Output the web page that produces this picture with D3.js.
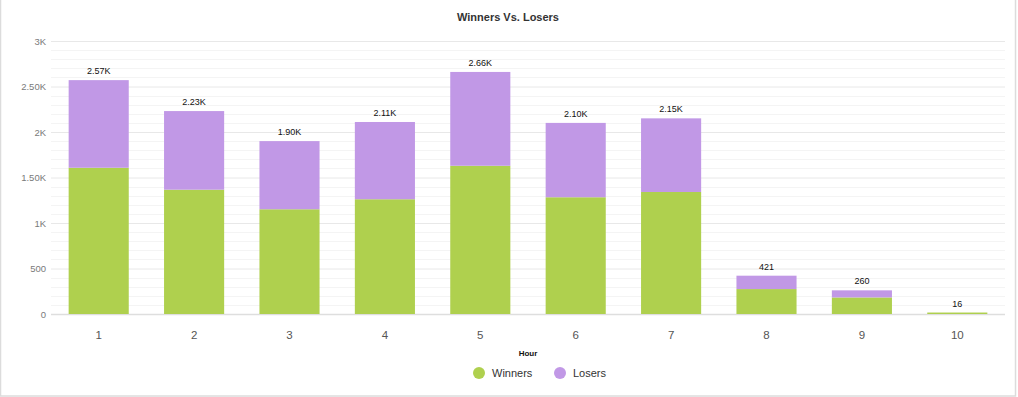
<!DOCTYPE html>
<html><head><meta charset="utf-8">
<script src="https://cdn.jsdelivr.net/npm/d3@7"></script>
<style>body{margin:0;background:#fff;}svg{display:block;font-family:"Liberation Sans",Arial,sans-serif;}</style>
</head><body>
<svg id="c" width="1018" height="397"></svg>
<script>
const hours = ["1","2","3","4","5","6","7","8","9","10"];
const winners = [1607, 1366, 1151, 1261, 1629, 1283, 1341, 274, 182, 16];
const losers  = [963, 864, 749, 849, 1031, 817, 809, 147, 78, 0];
const yTicks = [0, 500, 1000, 1500, 2000, 2500, 3000];
const seriesNames = ["Winners", "Losers"];
const colors = ["#afd04e", "#c198e6"];

const svg = d3.select("#c");
const W = 1018, H = 397;
const m = {left: 51, right: 13, top: 41, bottom: 83};

svg.append("rect").attr("x",0.5).attr("y",-1).attr("width",1015).attr("height",397)
  .attr("fill","none").attr("stroke","#dcdcdc").attr("stroke-width",1.5);

const x = d3.scaleBand().domain(hours).range([m.left, W - m.right]).paddingInner(0.37).paddingOuter(0.185);
const y = d3.scaleLinear().domain([0, 3000]).range([H - m.bottom, m.top]);

// minor grid
svg.append("g").selectAll("line").data(d3.range(0, 3001, 100).filter(v => v % 500 !== 0)).join("line")
  .attr("x1", m.left).attr("x2", W - m.right)
  .attr("y1", d => Math.round(y(d)) + 0.5).attr("y2", d => Math.round(y(d)) + 0.5)
  .attr("stroke", "#f4f4f4");

// major grid + y axis labels
const fmtAxis = v => v >= 1000 ? (v % 1000 === 0 ? (v/1000) + "K" : (v/1000).toFixed(2) + "K") : String(v);
const yAxis = d3.axisLeft(y).tickValues(yTicks).tickSize(-(W - m.left - m.right)).tickFormat(fmtAxis).tickPadding(5);
const gy = svg.append("g").attr("transform", `translate(${m.left},0)`).call(yAxis);
gy.select(".domain").remove();
gy.selectAll(".tick line").attr("stroke", d => d === 0 ? "#dedede" : "#e8e8e8").attr("stroke-width", d => d === 0 ? 1.5 : 1);
gy.selectAll(".tick text").attr("fill", "#7a7a7a").attr("font-size", "9.5px").attr("font-family", "Liberation Sans, Arial, sans-serif");

// stacked bars
const rows = hours.map((h, i) => ({hour: h, Winners: winners[i], Losers: losers[i]}));
const stack = d3.stack().keys(seriesNames)(rows);
svg.append("g").selectAll("g").data(stack).join("g")
  .attr("fill", (d, i) => colors[i])
  .selectAll("rect").data(d => d).join("rect")
  .attr("x", d => x(d.data.hour))
  .attr("width", x.bandwidth())
  .attr("y", d => y(d[1]))
  .attr("height", d => Math.max(0, y(d[0]) - y(d[1])));

// total labels
const fmtTotal = v => v >= 1000 ? (v/1000).toFixed(2) + "K" : String(v);
svg.append("g").selectAll("text").data(rows).join("text")
  .attr("x", d => x(d.hour) + x.bandwidth()/2)
  .attr("y", d => y(d.Winners + d.Losers) - 6)
  .attr("text-anchor", "middle").attr("font-size", "9px").attr("fill", "#111")
  .text(d => fmtTotal(d.Winners + d.Losers));

// x axis labels
const xAxis = d3.axisBottom(x).tickSize(0).tickPadding(17);
const gx = svg.append("g").attr("transform", `translate(0,${H - m.bottom})`).call(xAxis);
gx.select(".domain").remove();
gx.selectAll(".tick text").attr("fill", "#555").attr("font-size", "11.5px").attr("font-family", "Liberation Sans, Arial, sans-serif");

// axis title
svg.append("text").attr("x", (m.left + W - m.right)/2).attr("y", 356).attr("text-anchor", "middle")
  .attr("font-size", "8px").attr("font-weight", "bold").attr("fill", "#111").text("Hour");

// chart title
svg.append("text").attr("x", 508).attr("y", 21).attr("text-anchor", "middle")
  .attr("font-size", "11px").attr("font-weight", "bold").attr("fill", "#333").text("Winners Vs. Losers");

// legend
const legX = [479, 560];
const lg = svg.append("g").selectAll("g").data(seriesNames).join("g")
  .attr("transform", (d, i) => `translate(${legX[i]},373)`);
lg.append("circle").attr("r", 6).attr("fill", (d, i) => colors[i]);
lg.append("text").attr("x", 13).attr("y", 4).attr("font-size", "11px").attr("fill", "#333").text(d => d);
</script>
</body></html>
